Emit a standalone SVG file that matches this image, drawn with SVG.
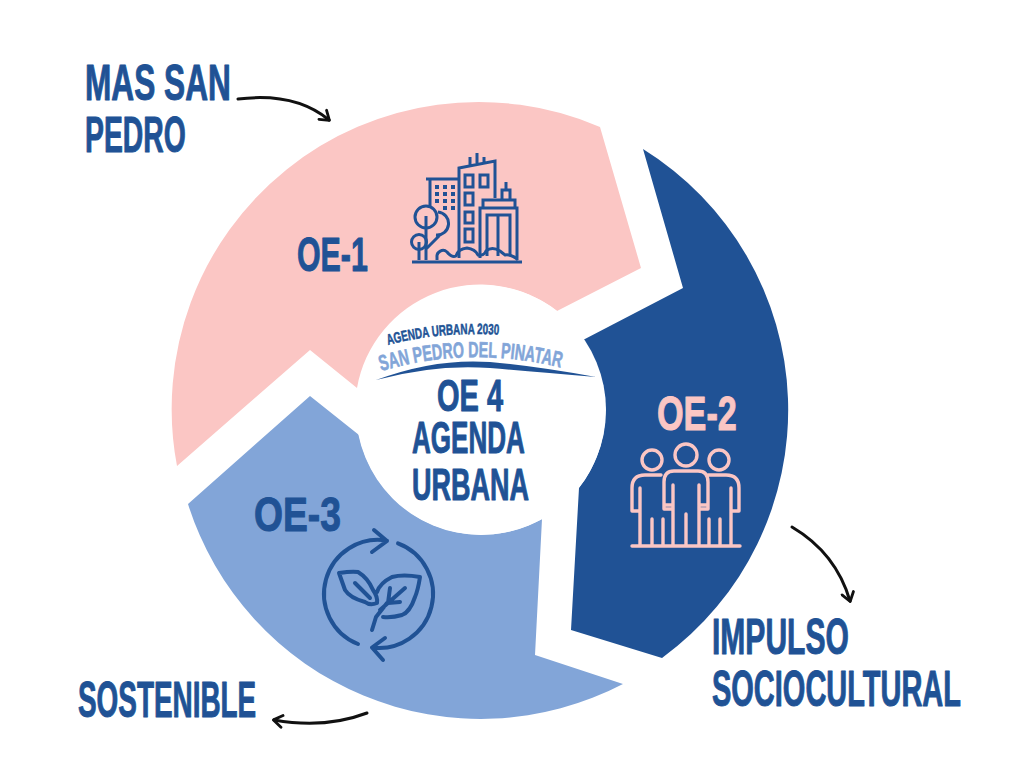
<svg xmlns="http://www.w3.org/2000/svg" width="1024" height="768" viewBox="0 0 1024 768">
<defs>
<marker id="ah" markerWidth="13" markerHeight="15" refX="9.500" refY="6" orient="auto" markerUnits="userSpaceOnUse" viewBox="0 0 12 12"><path d="M2 0.5L10 6L2 11.5" fill="none" stroke="#111" stroke-width="2.6" stroke-linecap="round" stroke-linejoin="round"/></marker>
<path id="arc1" d="M388 345Q440 331 500 335"/>
<path id="arc2" d="M381 371Q470 345 562 368"/>
</defs>
<style>
text{font-family:"Liberation Sans",Arial,sans-serif;font-weight:700;fill:#205295;stroke:#205295;stroke-width:1;stroke-linejoin:round}
.pk{fill:#fbc6c4;stroke:#fbc6c4}
.lb{fill:#82a5d8;stroke:#82a5d8;stroke-width:.6}
.sm{stroke-width:.5}
.s{fill:none;stroke:#205295;stroke-width:4;stroke-linecap:round;stroke-linejoin:round}
.b{fill:none;stroke:#205295;stroke-width:3;stroke-linejoin:miter}
.p{fill:none;stroke:#fbc6c4;stroke-width:3.4;stroke-linecap:round;stroke-linejoin:round}
.c{fill:none;stroke:#111;stroke-width:3;stroke-linecap:round}
</style>
<rect width="1024" height="768" fill="#fff"/>
<g id="node-oe1">
<path d="M177 466A307 307 0 0 1 600 127L641 268L557 311A125 125 0 0 0 357 388L310 350Z" fill="#fbc6c4"/>
<text transform="translate(297 271) scale(.6 1)" font-size="48" textLength="118" lengthAdjust="spacingAndGlyphs">OE-1</text>
<g id="icon-city">
<path class="b" d="M412 262H522M426 179H459M430 179V208M459 258V168L495 161V198M470 165V157M477 165V153M484 163V157M480 258V208H517V258M483 208V200H515V208M502 200V190H510V200M506 190V182M487 256V215H510V256M498 215V256"/>
<path class="b" d="M465 175h8v12h-8zM480 175h8v12h-8zM465 193h8v12h-8zM465 212h8v11h-8zM465 229h8v13h-8z"/>
<path d="M435 185h4v4h-4zM443 185h4v4h-4zM451 185h4v4h-4zM435 192h4v4h-4zM443 192h4v4h-4zM451 192h4v4h-4zM435 199h4v4h-4zM443 199h4v4h-4zM451 199h4v4h-4zM443 206h4v4h-4zM451 206h4v4h-4z" fill="#205295"/>
<circle class="b" cx="426" cy="217" r="11"/>
<path class="b" d="M438 212A11 11 0 0 1 436 235M426 216V260M426 249L440 235M419 242V260"/>
<circle class="b" cx="419" cy="242" r="7.500"/>
<path class="b" d="M437 260V257A6 6 0 0 1 447 252Q452 258 456 256Q458 249 467 248Q475 249 478 255Q484 256 486 251Q492 246 500 251L505 255Q512 254 518 260"/>
</g>
</g>
<g id="node-oe2">
<path d="M643 149A307 307 0 0 1 662 658L571 630L579 488A125 125 0 0 0 583 340L683 288Z" fill="#205295"/>
<text class="pk" transform="translate(657 430) scale(.6 1)" font-size="48" textLength="133" lengthAdjust="spacingAndGlyphs">OE-2</text>
<g id="icon-people">
<circle class="p" cx="652" cy="460" r="10"/><circle class="p" cx="686" cy="455" r="11"/><circle class="p" cx="719" cy="460" r="10"/>
<path class="p" d="M632 546H740M661 475H645Q632 475 632 488V511H640M640 488V546M652 519V546M663 519V546M674 471H698Q708 471 708 482V509H699M674 471Q664 471 664 482V509H673M673 485V546M686 514V546M699 485V546M664 505H673M699 505H708M708 475H726Q739 475 739 488V511H731M731 488V546M720 519V546M709 519V546"/>
</g>
</g>
<g id="node-oe3">
<path d="M623 684A307 307 0 0 1 188 504L310 396L359 435A125 125 0 0 0 542 519L535 655Z" fill="#82a5d8"/>
<text transform="translate(254 531) scale(.6 1)" font-size="48" textLength="145" lengthAdjust="spacingAndGlyphs">OE-3</text>
<g id="icon-leaf">
<path class="s" d="M387 540.600A54 54 0 0 0 358 644M398 543.400A54 54 0 0 1 372 647.500M374 530L387 541L372 552M385 638L372 647.500L383 660"/>
<path class="s" d="M339 573Q352 571 358 572Q368 578 373 590Q378 597 377 603Q370 606 365 602Q350 598 345 590ZM355 583L370 598M420 577Q403 574 392 577Q380 583 377 592M387 603Q380 612 376 617L372 630M420 577Q418 590 415 597Q410 612 402 615Q392 618 383 617M390 588L388 603M405 588L380 610M400 602L388 603"/>
</g>
</g>
<g id="node-oe4">
<circle cx="481" cy="410" r="125" fill="#fff"/>
<text class="sm" font-size="15"><textPath href="#arc1" textLength="112" lengthAdjust="spacingAndGlyphs">AGENDA URBANA 2030</textPath></text>
<text class="lb" font-size="22"><textPath href="#arc2" textLength="182" lengthAdjust="spacingAndGlyphs">SAN PEDRO DEL PINATAR</textPath></text>
<path d="M376 380Q435 358 490 362Q535 366 596 377Q535 372 490 368Q435 364 376 380Z" fill="#205295"/>
<text transform="translate(437 411) scale(.6 1)" font-size="45" textLength="110" lengthAdjust="spacingAndGlyphs">OE 4</text>
<text transform="translate(412 453) scale(.6 1)" font-size="45" textLength="188" lengthAdjust="spacingAndGlyphs">AGENDA</text>
<text transform="translate(412 500) scale(.6 1)" font-size="45" textLength="195" lengthAdjust="spacingAndGlyphs">URBANA</text>
</g>
<g id="node-mas-san-pedro">
<text transform="translate(85 100) scale(.6 1)" font-size="50" textLength="243" lengthAdjust="spacingAndGlyphs">MAS SAN</text>
<text transform="translate(85 152) scale(.6 1)" font-size="50" textLength="168" lengthAdjust="spacingAndGlyphs">PEDRO</text>
</g>
<g id="node-impulso">
<text transform="translate(712 654) scale(.6 1)" font-size="50" textLength="228" lengthAdjust="spacingAndGlyphs">IMPULSO</text>
<text transform="translate(712 706) scale(.6 1)" font-size="50" textLength="415" lengthAdjust="spacingAndGlyphs">SOCIOCULTURAL</text>
</g>
<g id="node-sostenible">
<text transform="translate(78 717) scale(.6 1)" font-size="50" textLength="297" lengthAdjust="spacingAndGlyphs">SOSTENIBLE</text>
</g>
<g id="connectors">
<path class="c" marker-end="url(#ah)" d="M238 99Q295 92 329 120"/>
<path class="c" marker-end="url(#ah)" d="M792 527Q836 553 850 601"/>
<path class="c" marker-end="url(#ah)" d="M367 713Q325 729 274 720"/>
</g>
</svg>
